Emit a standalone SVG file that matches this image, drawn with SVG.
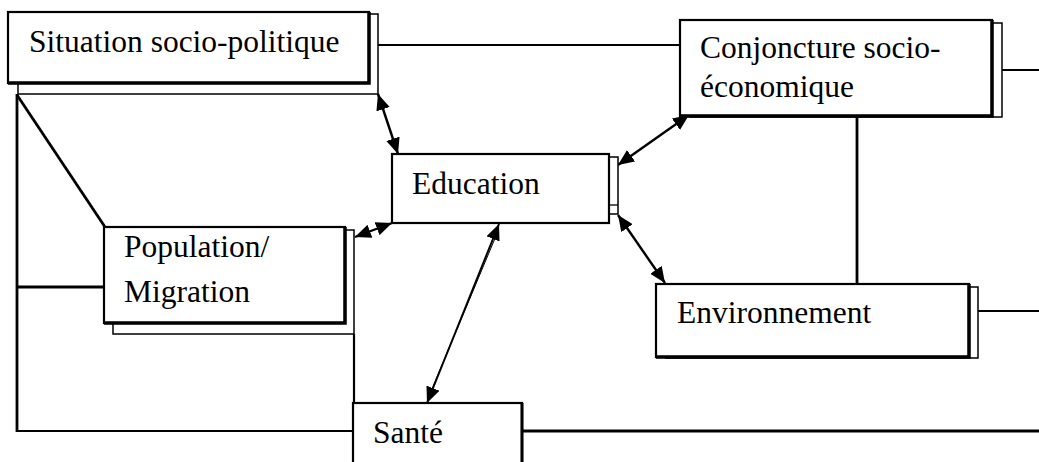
<svg xmlns="http://www.w3.org/2000/svg" width="1039" height="462" viewBox="0 0 1039 462">
<defs>
<marker id="ah" viewBox="0 0 16 14" refX="16" refY="7" markerWidth="16" markerHeight="14" markerUnits="userSpaceOnUse" orient="auto-start-reverse">
<path d="M0,0 L16,7 L0,14 Z" fill="#000"/>
</marker>
</defs>
<style>
.shadow{fill:#fff;stroke:#000;stroke-width:1.5}
.main{fill:#fff;stroke:#000;stroke-width:2.2}
.edge{fill:none;stroke:#000;stroke-width:3.5}
.ln{fill:none;stroke:#000;stroke-width:2.2}
.thin{fill:none;stroke:#000;stroke-width:1.3}
.arr{fill:none;stroke:#000;stroke-width:2.4;marker-start:url(#ah);marker-end:url(#ah)}
text{font-family:"Liberation Serif","Times New Roman",serif;font-size:31.5px;fill:#000}
</style>
<rect width="1039" height="462" fill="#fff"/>
<g id="connectors">
<line class="ln" x1="378" y1="45" x2="680" y2="45"/>
<line class="ln" x1="1002" y1="70" x2="1039" y2="70"/>
<line class="edge" x1="857" y1="116" x2="857" y2="284" style="stroke-width:2.8"/>
<line class="ln" x1="978" y1="311" x2="1039" y2="311"/>
<line class="edge" x1="17" y1="94" x2="17" y2="432" style="stroke-width:2.8"/>
<line class="edge" x1="17" y1="95" x2="105" y2="227" style="stroke-width:2.8"/>
<line class="edge" x1="17" y1="287" x2="104" y2="287" style="stroke-width:2.8"/>
<line class="ln" x1="17" y1="431" x2="353" y2="431"/>
<line class="ln" x1="354" y1="334" x2="354" y2="403"/>
<line class="edge" x1="522" y1="431" x2="1039" y2="431" style="stroke-width:2.8"/>
<line class="arr" x1="378" y1="94" x2="398" y2="154"/>
<line class="arr" x1="618" y1="165" x2="689" y2="115"/>
<line class="arr" x1="618" y1="215" x2="665" y2="283"/>
<line class="arr" x1="392" y1="223" x2="355" y2="237"/>
<line class="arr" x1="499" y1="224" x2="427" y2="403" style="stroke-width:2"/>
<line class="thin" x1="496" y1="236" x2="429" y2="396" style="stroke-width:1"/>
</g>
<g id="situation">
<rect class="shadow" x="18" y="14" width="360" height="80"/>
<rect class="main" x="8" y="12" width="361" height="71"/>
<polyline class="edge" points="8,83 369,83 369,12"/>
<text x="29" y="52">Situation socio-politique</text>
</g>
<g id="conjoncture">
<rect class="shadow" x="690" y="23" width="312" height="94"/>
<rect class="main" x="680" y="20" width="312" height="96"/>
<polyline class="edge" points="680,116 992,116 992,20"/>
<text x="700" y="58">Conjoncture socio-</text>
<text x="700" y="97">économique</text>
</g>
<g id="education">
<rect class="shadow" x="402" y="157" width="216" height="57"/>
<line class="thin" x1="609" y1="205" x2="618" y2="205"/>
<rect class="main" x="392" y="154" width="217" height="69"/>
<text x="412" y="194">Education</text>
</g>
<g id="population">
<rect class="shadow" x="113" y="230" width="241" height="104"/>
<rect class="main" x="104" y="227" width="241" height="96"/>
<polyline class="edge" points="104,323 345,323 345,227"/>
<text x="124" y="257">Population/</text>
<text x="124" y="302">Migration</text>
</g>
<g id="environnement">
<rect class="shadow" x="666" y="287" width="312" height="71"/>
<rect class="main" x="656" y="284" width="313" height="73"/>
<polyline class="edge" points="656,357 969,357 969,284"/>
<text x="677" y="323">Environnement</text>
</g>
<g id="sante">
<rect class="main" x="353" y="403" width="169" height="70"/>
<line class="edge" x1="522" y1="403" x2="522" y2="462" style="stroke-width:3"/>
<text x="373" y="443">Santé</text>
</g>
</svg>
